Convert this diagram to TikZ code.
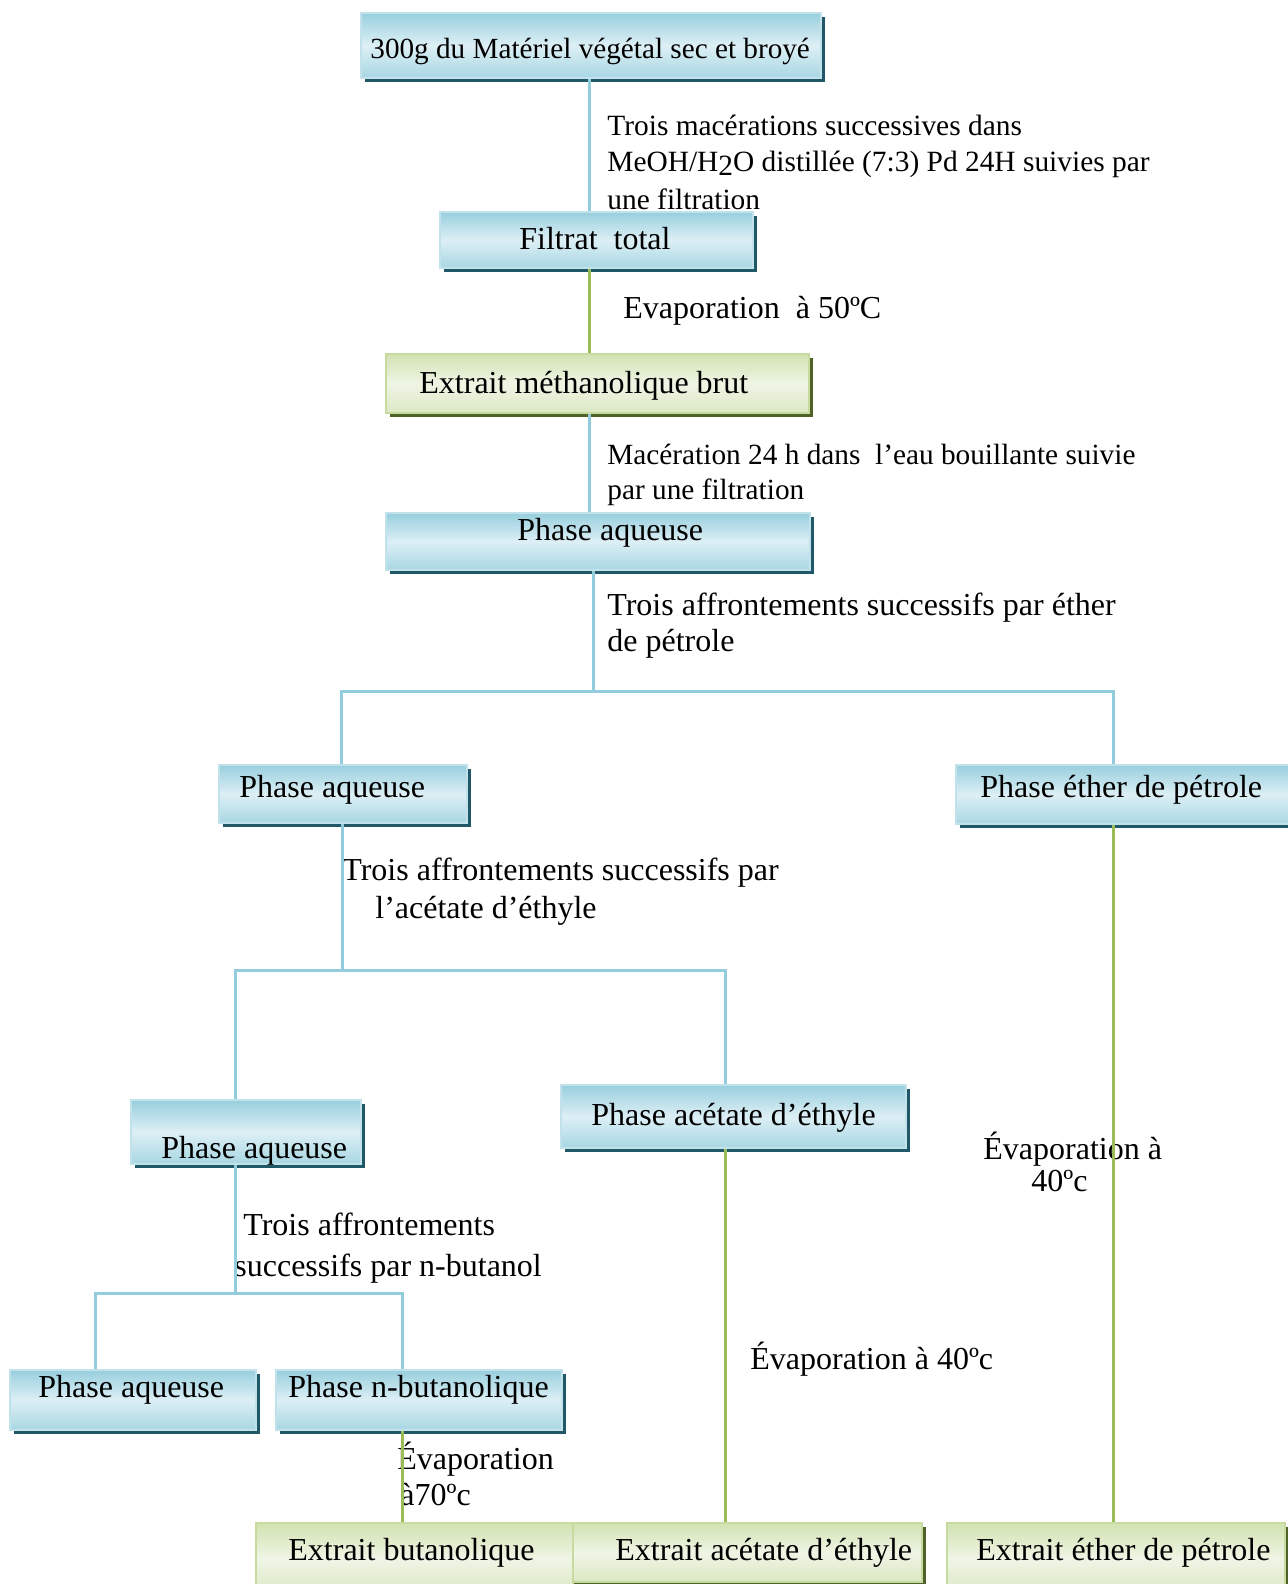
\documentclass[tikz,border=0pt]{standalone}
\usepackage{fontspec}
\setmainfont{Liberation Serif}
\usetikzlibrary{fit,shadows}
\definecolor{bbord}{HTML}{C2E2EB}
\definecolor{btop}{HTML}{98CFDE}
\definecolor{bmid}{HTML}{DDEFF5}
\definecolor{bbot}{HTML}{A8D7E3}
\definecolor{bshadow}{HTML}{215868}
\definecolor{gbord}{HTML}{C7DAA0}
\definecolor{gtop}{HTML}{D1E2B1}
\definecolor{gmid}{HTML}{EFF5E5}
\definecolor{gbot}{HTML}{DCE8C4}
\definecolor{gshadow}{HTML}{4F6228}
\definecolor{bline}{HTML}{93CDDD}
\definecolor{gline}{HTML}{9BBB59}
\begin{document}
\begin{tikzpicture}[x=0.5pt,y=-0.5pt,
  bluebox/.style={draw=bbord, line width=0.8pt, top color=btop, bottom color=bbot, middle color=bmid,
    general shadow={fill=bshadow, shadow xshift=2pt, shadow yshift=-2.2pt}, inner sep=0pt},
  greenbox/.style={draw=gbord, line width=0.8pt, top color=gtop, bottom color=gbot, middle color=gmid,
    general shadow={fill=gshadow, shadow xshift=2pt, shadow yshift=-2.2pt}, inner sep=0pt},
  blueline/.style={draw=bline, line width=1.5pt},
  greenline/.style={draw=gline, line width=1.5pt},
  txt/.style={anchor=base west, inner sep=0pt, font=\fontsize{16}{19}\selectfont},
]
\useasboundingbox (0,0) rectangle (1288,1584);
\clip (0,0) rectangle (1288,1584);

% boxes
\node[bluebox, fit={(361,13) (821,78)}] (b1) {};
\node[bluebox, fit={(440,212) (753,268)}] (b2) {};
\node[greenbox, fit={(386,354) (809,413)}] (b3) {};
\node[bluebox, fit={(386,513) (810,570)}] (b4) {};
\node[bluebox, fit={(219,765) (467,823)}] (b5) {};
\node[bluebox, fit={(956,765) (1300,824)}] (b6) {};
\node[bluebox, fit={(131,1100) (361,1164)}] (b7) {};
\node[bluebox, fit={(561,1085) (906,1148)}] (b8) {};
\node[bluebox, fit={(10,1370) (256,1430)}] (b9) {};
\node[bluebox, fit={(276,1370) (562,1430)}] (b10) {};
\node[greenbox, fit={(256,1523) (573,1594)}] (b11) {};
\node[greenbox, fit={(573,1523) (922,1582)}] (b12) {};
\node[greenbox, fit={(947,1523) (1285,1594)}] (b13) {};

% box texts
\node[txt, font=\fontsize{14.6}{17}\selectfont] (t1) at (370,59) {300g du Matériel végétal sec et broyé};
\node[txt] (t2) at (519,249) {Filtrat\ \ total};
\node[txt] (t3) at (419,393) {Extrait méthanolique brut};
\node[txt] (t4) at (517,540) {Phase aqueuse};
\node[txt] (t5) at (239,797) {Phase aqueuse};
\node[txt] (t6) at (980,797) {Phase éther de pétrole};
\node[txt] (t7) at (161,1158) {Phase aqueuse};
\node[txt] (t8) at (591,1125) {Phase acétate d’éthyle};
\node[txt] (t9) at (38,1397) {Phase aqueuse};
\node[txt] (t10) at (288,1397) {Phase n-butanolique};
\node[txt] (t11) at (288,1560) {Extrait butanolique};
\node[txt] (t12) at (615,1560) {Extrait acétate d’éthyle};
\node[txt] (t13) at (976,1560) {Extrait éther de pétrole};

% labels
\node[txt, font=\fontsize{14.7}{17}\selectfont] (l1a) at (607,135) {Trois macérations successives dans};
\node[txt, font=\fontsize{14.7}{17}\selectfont] (l1b) at (607,171) {MeOH/H\raisebox{-0.35ex}{2}O distillée (7:3) Pd 24H suivies par};
\node[txt, font=\fontsize{14.7}{17}\selectfont] (l1c) at (607,209) {une filtration};
\node[txt] (l2) at (623,318) {Evaporation\ \ à 50ºC};
\node[txt, font=\fontsize{14.65}{17}\selectfont] (l3a) at (607,464) {Macération 24 h dans\ \ l’eau bouillante suivie};
\node[txt, font=\fontsize{14.65}{17}\selectfont] (l3b) at (607,499) {par une filtration};
\node[txt] (l4a) at (607,615) {Trois affrontements successifs par éther};
\node[txt] (l4b) at (607,651) {de pétrole};
\node[txt] (l5a) at (342,880) {Trois affrontements successifs par};
\node[txt] (l5b) at (375,918) {l’acétate d’éthyle};
\node[txt] (l6a) at (983,1159) {Évaporation à};
\node[txt] (l6b) at (1031,1191) {40ºc};
\node[txt] (l7) at (750,1369) {Évaporation à 40ºc};
\node[txt] (l8a) at (243,1235) {Trois affrontements};
\node[txt] (l8b) at (234,1276) {successifs par n-butanol};
\node[txt] (l9a) at (397,1469) {Évaporation};
\node[txt] (l9b) at (400,1505) {à70ºc};

% junction coordinates
\coordinate (x1) at (589,0);
\coordinate (j1) at (593,691);
\coordinate (s1) at (341,691);
\coordinate (s2) at (1113,691);
\coordinate (j2) at (342,970);
\coordinate (s3) at (235,970);
\coordinate (s4) at (725,970);
\coordinate (j3) at (235,1293);
\coordinate (s5) at (95,1293);
\coordinate (s6) at (402,1293);

% connectors
\draw[blueline] (b1.south -| x1) -- (b2.north -| x1);
\draw[greenline] (b2.south -| x1) -- (b3.north -| x1);
\draw[blueline] (b3.south -| x1) -- (b4.north -| x1);
\draw[blueline] (b4.south -| j1) -- (j1);
\draw[blueline] (b5.north -| s1) -- (s1) -- (s2) -- (b6.north -| s2);
\draw[blueline] (b5.south -| j2) -- (j2);
\draw[blueline] (b7.north -| s3) -- (s3) -- (s4) -- (b8.north -| s4);
\draw[greenline] (b6.south -| s2) -- (b13.north -| s2);
\draw[greenline] (b8.south -| s4) -- (b12.north -| s4);
\draw[blueline] (b7.south -| j3) -- (j3);
\draw[blueline] (b9.north -| s5) -- (s5) -- (s6) -- (b10.north -| s6);
\draw[greenline] (b10.south -| s6) -- (b11.north -| s6);
\end{tikzpicture}
\end{document}
